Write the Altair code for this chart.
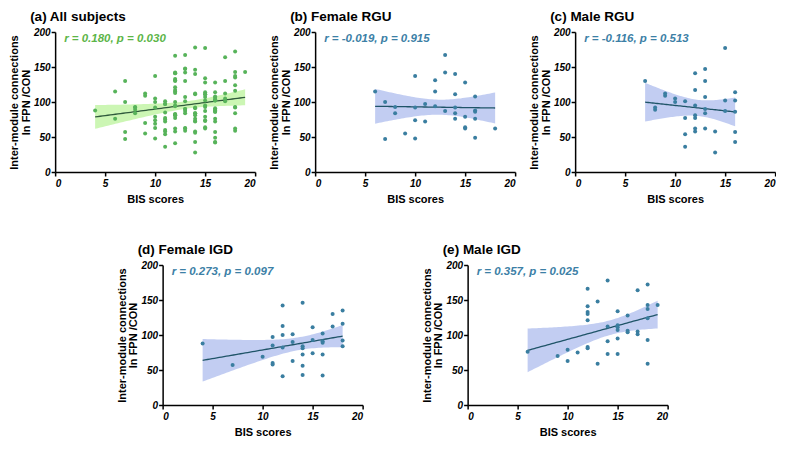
import altair as alt
import numpy as np
import pandas as pd

# ---------------- data ----------------
frgu_x = [6, 7, 7, 8, 8, 9, 10, 10, 10, 10, 11, 11, 12, 12, 12, 13, 13, 13, 14, 14, 14, 14, 14,
          15, 15, 15, 15, 16, 16, 16, 16, 16, 18]
frgu_y = [115, 100, 47, 93, 84, 55, 137, 92, 74, 48, 97, 72, 131, 115, 94, 167, 142, 87, 140, 111, 92, 84, 76,
          128, 79, 64, 62, 108, 88, 86, 76, 49, 62]

mrgu_x = [7, 8, 8, 9, 9, 10, 10, 11, 11, 11, 11, 12, 12, 12, 12, 12, 12, 12, 13, 13, 13, 13, 13, 13,
          14, 14, 15, 15, 15, 16, 16, 16, 16, 16]
mrgu_y = [130, 92, 89, 112, 109, 105, 100, 101, 77, 54, 36, 141, 117, 95, 81, 77, 62, 58, 147, 130, 107, 90, 84, 62,
          58, 28, 177, 102, 87, 114, 102, 86, 57, 43]

figd_x = [4, 7, 10, 11, 11, 11, 11, 12, 12, 12, 12, 12, 13, 13, 13, 14, 14, 14, 14, 14, 14, 15, 15, 15,
          16, 16, 16, 16, 16, 17, 17, 18, 18, 18, 18]
figd_y = [88, 57, 69, 97, 85, 60, 58, 142, 113, 100, 82, 41, 101, 90, 63, 146, 84, 81, 72, 56, 43, 111, 93, 74,
          102, 91, 89, 72, 42, 130, 112, 135, 116, 92, 84]

migd_x = [6, 9, 10, 10, 11, 12, 12, 12, 12, 12, 12, 12, 13, 13, 14, 14, 14, 14, 15, 15, 15, 15, 15, 15,
          16, 16, 16, 17, 17, 17, 18, 18, 18, 18, 18, 18, 19]
migd_y = [76, 70, 79, 63, 75, 166, 141, 133, 130, 121, 83, 81, 148, 59, 178, 112, 91, 73, 134, 114, 111, 107, 95, 73,
          128, 106, 104, 164, 105, 101, 172, 143, 137, 124, 93, 59, 143]

titles = ["(a) All subjects", "(b) Female RGU", "(c) Male RGU", "(d) Female IGD", "(e) Male IGD"]
annots = ["r = 0.180, p = 0.030", "r = -0.019, p = 0.915", "r = -0.116, p = 0.513",
          "r = 0.273, p = 0.097", "r = 0.357, p = 0.025"]
x_ticks = [0, 5, 10, 15, 20]
y_ticks = [0, 50, 100, 150, 200]

FONT = "Liberation Sans"
GREEN_PT, GREEN_BAND, GREEN_LINE, GREEN_TXT = "#57b35a", "#c9f5b0", "#2f5a3c", "#5cb548"
BLUE_PT, BLUE_BAND, BLUE_LINE, BLUE_TXT = "#3a7ea0", "#bfcaf1", "#1f5468", "#3c80a6"


def t_quant(df, z=1.959964):
    return z + (z ** 3 + z) / (4 * df) + (5 * z ** 5 + 16 * z ** 3 + 3 * z) / (96 * df ** 2)


def fit(xs, ys):
    x = np.asarray(xs, float)
    y = np.asarray(ys, float)
    n = len(x)
    b, a = np.polyfit(x, y, 1)
    resid = y - (a + b * x)
    s = np.sqrt(np.sum(resid ** 2) / (n - 2))
    sxx = np.sum((x - x.mean()) ** 2)
    g = np.linspace(x.min(), x.max(), 60)
    yh = a + b * g
    se = s * np.sqrt(1 / n + (g - x.mean()) ** 2 / sxx)
    t = t_quant(n - 2)
    return pd.DataFrame({"x": g, "yhat": yh, "lo": yh - t * se, "hi": yh + t * se})


def panel(xs, ys, title, annot, pt, band, line, txt):
    pts = pd.DataFrame({"x": xs, "y": ys})
    reg = fit(xs, ys)
    xsc = alt.Scale(domain=[0, 20], nice=False, zero=False)
    ysc = alt.Scale(domain=[0, 200], nice=False)
    xax = alt.Axis(values=x_ticks, title="BIS scores", grid=False, format="d")
    yax = alt.Axis(values=y_ticks, title=["Inter-module connections", "In FPN /CON"], grid=False, format="d")

    band_l = alt.Chart(reg).mark_area(color=band, opacity=0.95).encode(
        x=alt.X("x:Q", scale=xsc, axis=xax),
        y=alt.Y("lo:Q", scale=ysc, axis=yax),
        y2="hi:Q",
    )
    line_l = alt.Chart(reg).mark_line(color=line, strokeWidth=1.3).encode(
        x=alt.X("x:Q", scale=xsc, axis=xax),
        y=alt.Y("yhat:Q", scale=ysc, axis=yax),
    )
    pt_l = alt.Chart(pts).mark_circle(color=pt, size=16, opacity=1).encode(
        x=alt.X("x:Q", scale=xsc, axis=xax),
        y=alt.Y("y:Q", scale=ysc, axis=yax),
    )
    txt_l = alt.Chart(pd.DataFrame({"t": [annot]})).mark_text(
        align="left", baseline="middle", font=FONT, fontSize=11.5, fontWeight="bold",
        fontStyle="italic", color=txt,
    ).encode(text="t:N", x=alt.value(9), y=alt.value(7))

    return alt.layer(band_l, line_l, pt_l, txt_l).properties(
        width=200, height=140,
        title=alt.TitleParams(title, anchor="start", frame="group", dx=-25, offset=4, font=FONT,
                              fontSize=13.5, fontWeight="bold", color="black"),
    )


all_x = frgu_x + mrgu_x + figd_x + migd_x
all_y = frgu_y + mrgu_y + figd_y + migd_y

pa = panel(all_x, all_y, titles[0], annots[0], GREEN_PT, GREEN_BAND, GREEN_LINE, GREEN_TXT)
pb = panel(frgu_x, frgu_y, titles[1], annots[1], BLUE_PT, BLUE_BAND, BLUE_LINE, BLUE_TXT)
pc = panel(mrgu_x, mrgu_y, titles[2], annots[2], BLUE_PT, BLUE_BAND, BLUE_LINE, BLUE_TXT)
pd_ = panel(figd_x, figd_y, titles[3], annots[3], BLUE_PT, BLUE_BAND, BLUE_LINE, BLUE_TXT)
pe = panel(migd_x, migd_y, titles[4], annots[4], BLUE_PT, BLUE_BAND, BLUE_LINE, BLUE_TXT)

row1 = alt.hconcat(pa, pb, pc, spacing=12)
row2 = alt.hconcat(pd_, pe, spacing=57)

chart = alt.vconcat(row1, row2, spacing=38, center=True).properties(
    padding={"left": 0, "top": 1, "right": 0, "bottom": 0}
).configure_view(stroke=None).configure_axis(
    domainColor="black", domainWidth=1.5, tickColor="black", tickWidth=1.5, tickSize=4,
    labelFont=FONT, labelFontSize=10, labelFontWeight="bold", labelFontStyle="italic",
    labelColor="black", labelPadding=1,
    titleFont=FONT, titleFontSize=11, titleFontWeight="bold", titleColor="black",
).configure_axisY(titlePadding=2, titleLineHeight=11.5).configure_axisX(titlePadding=5, labelPadding=2)

chart.save("out.html", embed_options={"renderer": "svg", "actions": False})
